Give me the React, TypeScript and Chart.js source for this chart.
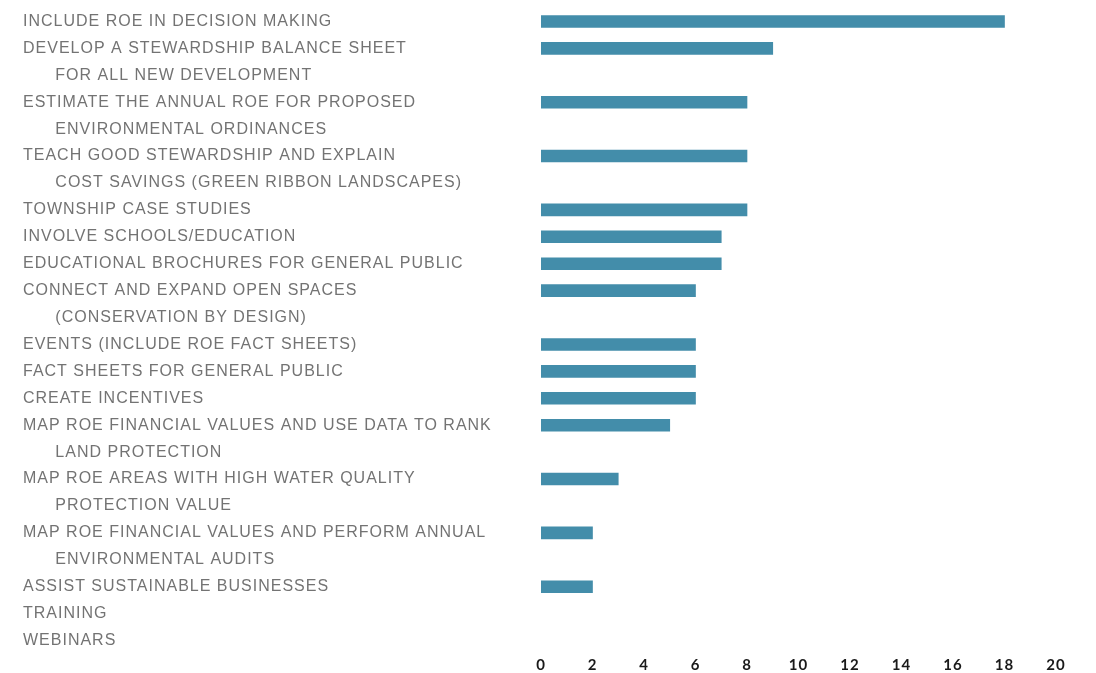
import React, { useEffect, useRef } from "react";
import { Chart, registerables } from "chart.js";

Chart.register(...registerables);

const categories: string[][] = [
  ["INCLUDE ROE IN DECISION MAKING"],
  ["DEVELOP A STEWARDSHIP BALANCE SHEET", "FOR ALL NEW DEVELOPMENT"],
  ["ESTIMATE THE ANNUAL ROE FOR PROPOSED", "ENVIRONMENTAL ORDINANCES"],
  ["TEACH GOOD STEWARDSHIP AND EXPLAIN", "COST SAVINGS (GREEN RIBBON LANDSCAPES)"],
  ["TOWNSHIP CASE STUDIES"],
  ["INVOLVE SCHOOLS/EDUCATION"],
  ["EDUCATIONAL BROCHURES FOR GENERAL PUBLIC"],
  ["CONNECT AND EXPAND OPEN SPACES", "(CONSERVATION BY DESIGN)"],
  ["EVENTS (INCLUDE ROE FACT SHEETS)"],
  ["FACT SHEETS FOR GENERAL PUBLIC"],
  ["CREATE INCENTIVES"],
  ["MAP ROE FINANCIAL VALUES AND USE DATA TO RANK", "LAND PROTECTION"],
  ["MAP ROE AREAS WITH HIGH WATER QUALITY", "PROTECTION VALUE"],
  ["MAP ROE FINANCIAL VALUES AND PERFORM ANNUAL", "ENVIRONMENTAL AUDITS"],
  ["ASSIST SUSTAINABLE BUSINESSES"],
  ["TRAINING"],
  ["WEBINARS"],
];

const values: number[] = [18, 9, 8, 8, 8, 7, 7, 6, 6, 6, 6, 5, 3, 2, 2, 0, 0];

const xTicks: number[] = [0, 2, 4, 6, 8, 10, 12, 14, 16, 18, 20];

const INDENT = "\u2003\u2002\u2004";

const letterSpacingPlugin = {
  id: "letterSpacing",
  beforeDraw: (chart: any) => {
    chart.ctx.letterSpacing = "1px";
  },
};

export default function App() {
  const ref = useRef<HTMLCanvasElement | null>(null);

  useEffect(() => {
    if (!ref.current) return;
    // Each extra label line occupies its own (empty) category slot.
    const slotLabels: string[] = [];
    const slotValues: (number | null)[] = [];
    categories.forEach((lines, i) => {
      lines.forEach((line, j) => {
        slotLabels.push(j === 0 ? line : INDENT + line);
        slotValues.push(j === 0 ? values[i] : null);
      });
    });

    const chart = new Chart(ref.current, {
      type: "bar",
      data: {
        labels: slotLabels,
        datasets: [
          {
            data: slotValues,
            backgroundColor: (c: any) =>
              c.raw ? "#438DAA" : "rgba(0,0,0,0)",
            borderWidth: 0,
            barThickness: 12,
          },
        ],
      },
      plugins: [letterSpacingPlugin],
      options: {
        indexAxis: "y",
        animation: false,
        responsive: true,
        maintainAspectRatio: false,
        layout: { padding: { left: 23, right: 40, top: 8, bottom: 0 } },
        plugins: {
          legend: { display: false },
          tooltip: { enabled: false },
        },
        scales: {
          x: {
            min: 0,
            max: 20,
            afterBuildTicks: (axis: any) => {
              axis.ticks = xTicks.map((v) => ({ value: v }));
            },
            afterFit: (axis: any) => {
              axis.height = 19;
            },
            grid: { display: false, drawTicks: false },
            border: { display: false },
            ticks: {
              padding: 2,
              maxRotation: 0,
              color: "#1a1a1a",
              font: { family: "Lato", size: 15, weight: "bold" },
            },
          },
          y: {
            grid: { display: false, drawTicks: false },
            border: { display: false },
            afterFit: (axis: any) => {
              axis.width = 541 - 23;
              axis.paddingTop = 0;
              axis.paddingBottom = 0;
            },
            ticks: {
              crossAlign: "far",
              autoSkip: false,
              padding: 0,
              color: "#737373",
              font: { family: "Liberation Sans", size: 16 },
            },
          },
        },
      },
    });
    return () => chart.destroy();
  }, []);

  return (
    <div style={{ position: "absolute", left: 0, top: 0, width: 1096, height: 673 }}>
      <canvas ref={ref} />
    </div>
  );
}
